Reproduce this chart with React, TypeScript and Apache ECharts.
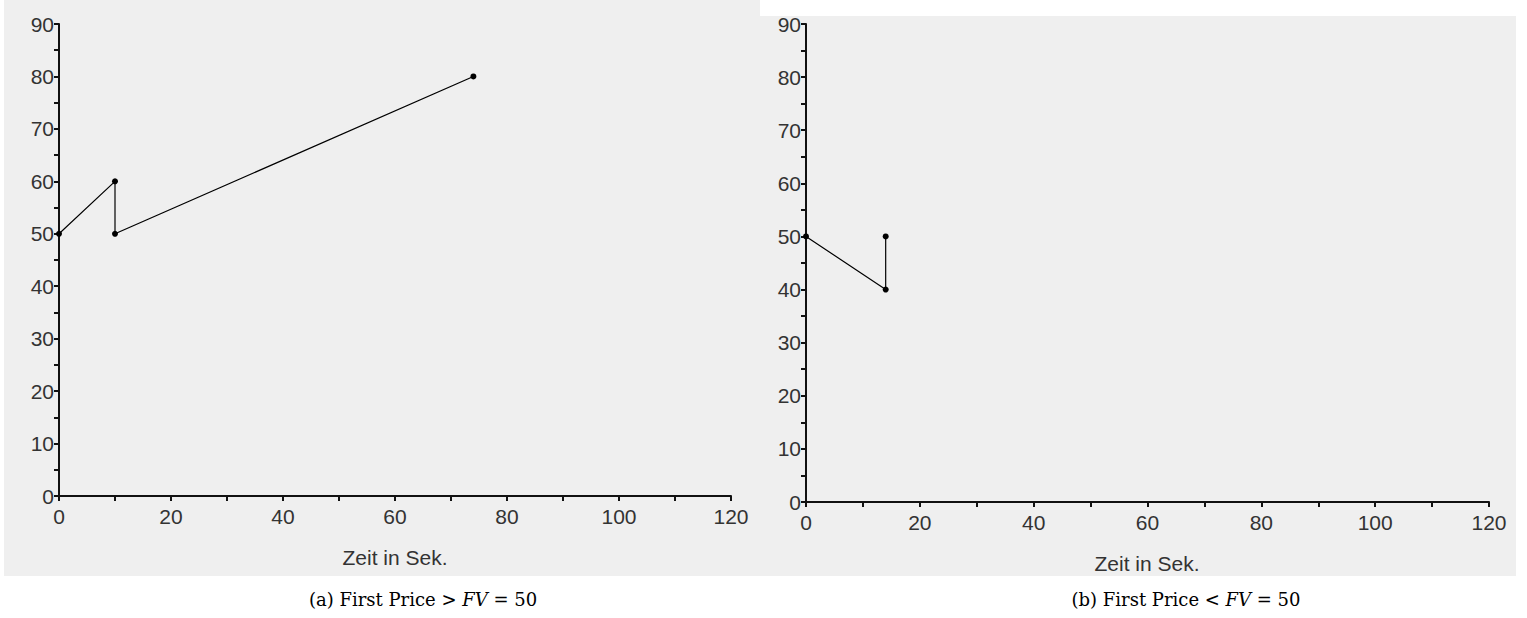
import React, { useEffect, useRef } from "react";
import * as echarts from "echarts";

const seriesA: [number, number][] = [[0, 50], [10, 60], [10, 50], [74, 80]];
const seriesB: [number, number][] = [[0, 50], [14, 40], [14, 50]];
const xLabelStep = 20;
const yLabelStep = 10;
const axisTitle = "Zeit in Sek.";
const captionA = ["(a) First Price > ", "FV", " = 50"];
const captionB = ["(b) First Price < ", "FV", " = 50"];

export default function App() {
  const ref = useRef<HTMLDivElement>(null);
  useEffect(() => {
    if (!ref.current) return;
    const chart = echarts.init(ref.current, undefined, { renderer: "svg" });
    const grids = [
      { left: 59, top: 24, width: 672, height: 472 },
      { left: 806, top: 24, width: 683, height: 478 },
    ];
    const labelFont = { fontFamily: "Liberation Sans, Arial, sans-serif", fontSize: 21, color: "#333" };
    const mkX = (gi: number) => ({
      type: "value",
      gridIndex: gi,
      min: 0,
      max: 120,
      interval: 10,
      axisLine: { show: true, lineStyle: { color: "#111", width: 2 } },
      axisTick: { show: true, length: 5, lineStyle: { color: "#111", width: 2 } },
      axisLabel: {
        ...labelFont,
        margin: 10,
        formatter: (v: number) => (v % xLabelStep === 0 ? String(v) : ""),
      },
      splitLine: { show: false },
    });
    const mkY = (gi: number) => ({
      type: "value",
      gridIndex: gi,
      min: 0,
      max: 90,
      interval: 5,
      axisLine: { show: true, lineStyle: { color: "#111", width: 2 } },
      axisTick: { show: true, length: 5, lineStyle: { color: "#111", width: 2 } },
      axisLabel: {
        ...labelFont,
        margin: 5,
        formatter: (v: number) => (v % yLabelStep === 0 ? String(v) : ""),
      },
      splitLine: { show: false },
    });
    const mkSeries = (data: [number, number][], gi: number) => ({
      type: "line",
      xAxisIndex: gi,
      yAxisIndex: gi,
      data,
      symbol: "circle",
      symbolSize: 6,
      showSymbol: true,
      itemStyle: { color: "#000" },
      lineStyle: { color: "#000", width: 1.2 },
    });
    const caption = (parts: string[], x: number) => ({
      type: "text",
      x,
      y: 599,
      style: {
        text: `{a|${parts[0]}}{i|${parts[1]}}{a|${parts[2]}}`,
        align: "center",
        verticalAlign: "middle",
        rich: {
          a: { fontFamily: "DejaVu Serif, serif", fontSize: 18, color: "#000" },
          i: { fontFamily: "DejaVu Serif, serif", fontStyle: "italic", fontSize: 18, color: "#000" },
        },
      },
    });
    const title = (x: number, y: number) => ({
      type: "text",
      x,
      y,
      style: { text: axisTitle, align: "center", verticalAlign: "middle", font: "21px Liberation Sans, Arial, sans-serif", fill: "#333" },
    });
    chart.setOption({
      animation: false,
      backgroundColor: "#fff",
      graphic: [
        { type: "rect", z: -10, silent: true, shape: { x: 4, y: 0, width: 756, height: 576 }, style: { fill: "#efefef" } },
        { type: "rect", z: -10, silent: true, shape: { x: 760, y: 16, width: 756, height: 560 }, style: { fill: "#efefef" } },
        title(395, 557),
        title(1147, 563),
        caption(captionA, 423),
        caption(captionB, 1186),
      ],
      grid: grids,
      xAxis: [mkX(0), mkX(1)],
      yAxis: [mkY(0), mkY(1)],
      series: [mkSeries(seriesA, 0), mkSeries(seriesB, 1)],
    });
    return () => chart.dispose();
  }, []);
  return <div ref={ref} style={{ position: "absolute", left: 0, top: 0, width: 1527, height: 618 }} />;
}
